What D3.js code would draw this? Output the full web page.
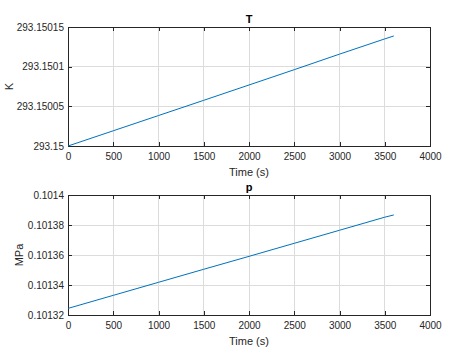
<!DOCTYPE html>
<html><head><meta charset="utf-8">
<script src="https://cdn.jsdelivr.net/npm/d3@7"></script>
<style>body{margin:0;background:#fff}svg{display:block}text{font-family:"Liberation Sans",Arial,sans-serif}</style>
</head><body><svg id="c" width="476" height="357"></svg>
<script>
const time = [0, 500, 1000, 1500, 2000, 2500, 3000, 3500, 3600];
const T = [293.15, 293.1500192, 293.1500384, 293.1500576, 293.1500769, 293.1500962, 293.1501158, 293.1501350, 293.1501387];
const p = [0.1013244, 0.1013331, 0.1013418, 0.1013505, 0.1013591, 0.1013678, 0.1013765, 0.1013852, 0.1013867];
const xTicks = [0, 500, 1000, 1500, 2000, 2500, 3000, 3500, 4000];
const tTicks = [293.15, 293.15005, 293.1501, 293.15015];
const tTickLabels = ["293.15", "293.15005", "293.1501", "293.15015"];
const pTicks = [0.10132, 0.10134, 0.10136, 0.10138, 0.1014];
const pTickLabels = ["0.10132", "0.10134", "0.10136", "0.10138", "0.1014"];

const svg = d3.select("#c");
const L = 68, R = 430;

function panel(top, bottom, yDomain, yTicks, yLabels, yVals, title, ylabel) {
  const x = d3.scaleLinear().domain([0, 4000]).range([L, R]);
  const y = d3.scaleLinear().domain(yDomain).range([bottom, top]);
  const g = svg.append("g");
  g.selectAll(".gx").data(xTicks).enter().append("line")
    .attr("x1", d => x(d)).attr("x2", d => x(d)).attr("y1", top).attr("y2", bottom)
    .attr("stroke", "#dcdcdc").attr("stroke-width", 1).attr("shape-rendering", "crispEdges");
  g.selectAll(".gy").data(yTicks).enter().append("line")
    .attr("x1", L).attr("x2", R).attr("y1", d => y(d)).attr("y2", d => y(d))
    .attr("stroke", "#dcdcdc").attr("stroke-width", 1).attr("shape-rendering", "crispEdges");
  const ax = (gen, tr) => g.append("g").attr("transform", tr).call(gen)
    .call(s => { s.select(".domain").remove(); s.selectAll("line").attr("stroke", "#262626").attr("shape-rendering", "crispEdges"); s.selectAll("text").attr("fill", "#262626").style("font-size", "10px"); });
  ax(d3.axisBottom(x).tickValues(xTicks).tickFormat(d3.format("d")).tickSizeInner(-4).tickPadding(7), `translate(0,${bottom})`);
  ax(d3.axisTop(x).tickValues(xTicks).tickFormat("").tickSizeInner(-4), `translate(0,${top})`);
  ax(d3.axisLeft(y).tickValues(yTicks).tickFormat((d, i) => yLabels[i]).tickSizeInner(-4).tickPadding(4), `translate(${L},0)`);
  ax(d3.axisRight(y).tickValues(yTicks).tickFormat("").tickSizeInner(-4), `translate(${R},0)`);
  g.append("rect").attr("x", L + 0.5).attr("y", top + 0.5).attr("width", R - L).attr("height", bottom - top)
    .attr("fill", "none").attr("stroke", "#262626").attr("stroke-width", 1);
  g.append("path").datum(time.map((t, i) => [t, yVals[i]]))
    .attr("d", d3.line().x(d => x(d[0])).y(d => y(d[1])))
    .attr("fill", "none").attr("stroke", "#0072BD").attr("stroke-width", 1);
  g.append("text").attr("x", (L + R) / 2).attr("y", top - 4).attr("text-anchor", "middle")
    .style("font-size", "11px").style("font-weight", "bold").attr("fill", "#000").text(title);
  g.append("text").attr("x", (L + R) / 2).attr("y", bottom + 30).attr("text-anchor", "middle")
    .style("font-size", "11px").attr("fill", "#262626").text("Time (s)");
  g.append("text").attr("transform", `translate(${ylabel.x},${(top + bottom) / 2}) rotate(-90)`)
    .attr("text-anchor", "middle").style("font-size", "11px").attr("fill", "#262626").text(ylabel.t);
}
panel(27, 146, [293.15, 293.15015], tTicks, tTickLabels, T, "T", {x: 13, t: "K"});
panel(195, 315, [0.10132, 0.1014], pTicks, pTickLabels, p, "p", {x: 23, t: "MPa"});
</script></body></html>
